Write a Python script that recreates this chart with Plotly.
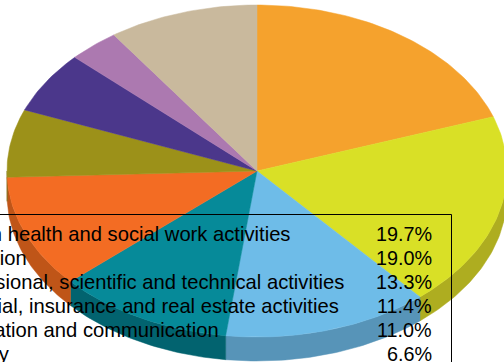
import numpy as np
import plotly.graph_objects as go

W, H = 504, 362
# Slices, clockwise from 12 o'clock
shares = [19.7, 19.0, 13.3, 11.4, 11.0, 6.6, 6.0, 3.3, 9.7]
top_colors = ["#F5A22D", "#D9E026", "#6EBCE8", "#068A99", "#F36C23",
              "#9C9119", "#4B378B", "#AC79B0", "#C9B99D"]
side_colors = ["#B87A22", "#AEAD20", "#5794B8", "#02636F", "#BF5518",
               "#756D13", "#382968", "#815B84", "#978B76"]

# Table rows (left edge of the table runs past the window)
row_labels = ["Human health and social work activities", "Education",
              "Professional, scientific and technical activities",
              "Financial, insurance and real estate activities",
              "Information and communication", "Industry"]
row_values = ["19.7%", "19.0%", "13.3%", "11.4%", "11.0%", "6.6%"]

# Pixel geometry of the tilted pie: axes are scaled so the unit circle appears as an ellipse
CX, CY, RX, RY, DEPTH = 257, 171, 250, 166, 24
xrange = [-CX / RX, (W - CX) / RX]
yrange = [-(H - CY) / RY, CY / RY]
depth = DEPTH / RY

fig = go.Figure()
edges = 2 * np.pi * np.concatenate([[0], np.cumsum(shares)]) / sum(shares)


def arc(a, b):
    t = np.linspace(a, b, max(int((b - a) * 60), 2))
    return np.sin(t), np.cos(t)


# Side wall (only the front half of the rim)
for i, col in enumerate(side_colors):
    a, b = max(edges[i], np.pi / 2), min(edges[i + 1], 3 * np.pi / 2)
    if a >= b:
        continue
    x, y = arc(a, b)
    fig.add_trace(go.Scatter(x=np.r_[x, x[::-1], x[0]], y=np.r_[y, y[::-1] - depth, y[0]],
                             mode="lines", fill="toself", fillcolor=col,
                             line=dict(width=0.5, color=col), hoverinfo="skip"))

# Top surface
for i, col in enumerate(top_colors):
    x, y = arc(edges[i], edges[i + 1])
    fig.add_trace(go.Scatter(x=np.r_[0, x, 0], y=np.r_[0, y, 0],
                             mode="lines", fill="toself", fillcolor=col,
                             line=dict(width=0.5, color=col), hoverinfo="skip"))

LABEL_FONT = dict(family="Liberation Sans, Arial, sans-serif", size=20.2, color="#000000")
VALUE_FONT = dict(family="Liberation Sans, Arial, sans-serif", size=19.8, color="#000000")
annotations = []
for k, (lab, val) in enumerate(zip(row_labels, row_values)):
    py = 1 - (234 + 24 * k) / H
    annotations.append(dict(xref="paper", yref="paper", x=-65 / W, y=py, text=lab, showarrow=False,
                            xanchor="left", yanchor="middle", font=LABEL_FONT))
    annotations.append(dict(xref="paper", yref="paper", x=434 / W, y=py, text=val, showarrow=False,
                            xanchor="right", yanchor="middle", font=VALUE_FONT))

fig.update_layout(
    width=W, height=H, autosize=False, showlegend=False,
    margin=dict(l=0, r=0, t=0, b=0), paper_bgcolor="white", plot_bgcolor="white",
    xaxis=dict(visible=False, range=xrange, fixedrange=True),
    yaxis=dict(visible=False, range=yrange, fixedrange=True),
    annotations=annotations,
    shapes=[dict(type="rect", xref="paper", yref="paper", x0=-10 / W, x1=451.5 / W,
                 y0=-10 / H, y1=1 - 214.5 / H, line=dict(color="#000000", width=1))],
)
fig.write_html("out.html", config={"displayModeBar": False},
               default_width=W, default_height=H,
               post_script="document.body.style.margin='0';document.body.style.overflow='hidden';")
